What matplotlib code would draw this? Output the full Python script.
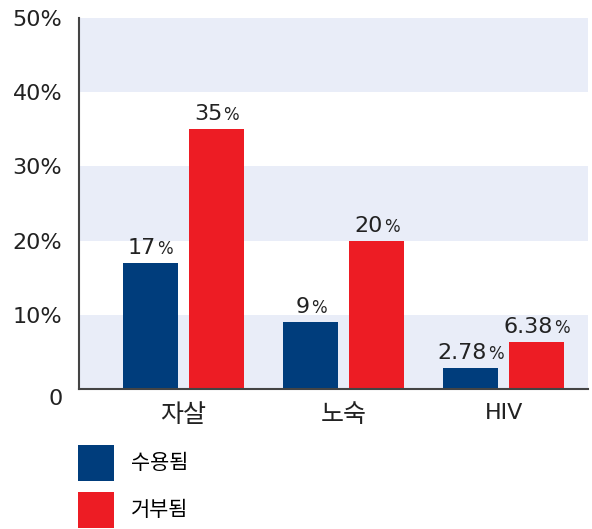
import numpy as np
import matplotlib.pyplot as plt
from matplotlib.offsetbox import TextArea, HPacker, AnnotationBbox

plt.rcParams['font.family'] = ['DejaVu Sans', 'Noto Sans CJK KR']

# Datos
categorias = ['자살', '노숙', 'HIV']
aceptados = [17, 9, 2.78]          # 수용됨
rechazados = [35, 20, 6.38]        # 거부됨
etiquetas_acep = ['17', '9', '2.78']
etiquetas_rech = ['35', '20', '6.38']
series = ['수용됨', '거부됨']
yticks = [0, 10, 20, 30, 40, 50]
ytick_labels = ['0', '10%', '20%', '30%', '40%', '50%']

azul = '#003D7C'
rojo = '#ED1C24'
banda = '#E9EDF8'
texto = '#222222'

fig = plt.figure(figsize=(5.92, 5.29), dpi=100)
ax = fig.add_axes([0.1334, 0.2647, 0.8598, 0.7013])

x = np.arange(len(categorias))
w = 0.344
d = 0.206

# Bandas horizontales
for y0 in yticks[:-1:2]:
    ax.axhspan(y0, y0 + 10, color=banda, lw=0, zorder=0)

b1 = ax.bar(x - d, aceptados, w, color=azul, label=series[0], zorder=2)
b2 = ax.bar(x + d, rechazados, w, color=rojo, label=series[1], zorder=2)

# Etiquetas con el % más pequeño
def etiqueta(xp, yp, txt):
    caja = HPacker(children=[TextArea(txt, textprops=dict(fontsize=16, color=texto)),
                             TextArea('%', textprops=dict(fontsize=12, color=texto))],
                   align='baseline', pad=0, sep=1)
    ab = AnnotationBbox(caja, (xp, yp), xybox=(0, 3.5), xycoords='data',
                        boxcoords='offset points', box_alignment=(0.5, 0),
                        frameon=False, pad=0)
    ax.add_artist(ab)

for i in range(len(categorias)):
    etiqueta(x[i] - d, aceptados[i], etiquetas_acep[i])
    etiqueta(x[i] + d, rechazados[i], etiquetas_rech[i])

ax.set_xlim(-0.653, 2.525)
ax.set_ylim(0, 50)
ax.set_xticks(x)
ax.set_xticklabels(categorias, fontsize=16, color=texto)
for lab in ax.get_xticklabels()[:2]:
    lab.set_fontsize(18)
ax.set_yticks(yticks)
ax.set_yticklabels(ytick_labels, fontsize=16, color=texto)
ax.tick_params(axis='both', length=0)
ax.tick_params(axis='y', pad=12)
ax.tick_params(axis='x', pad=10)
ax.get_yticklabels()[0].set_verticalalignment('top')

for s in ['top', 'right']:
    ax.spines[s].set_visible(False)
ax.spines['left'].set_color('#444444')
ax.spines['bottom'].set_color('#444444')
ax.spines['left'].set_linewidth(1.5)
ax.spines['bottom'].set_linewidth(1.5)

fig.legend(handles=[b1, b2], labels=series, loc='upper left',
           bbox_to_anchor=(0.132, 0.159), frameon=False, fontsize=15,
           handlelength=1.73, handleheight=2.3, labelspacing=0.5,
           handletextpad=0.8, borderaxespad=0, borderpad=0)

plt.savefig('out.png', dpi=100)
